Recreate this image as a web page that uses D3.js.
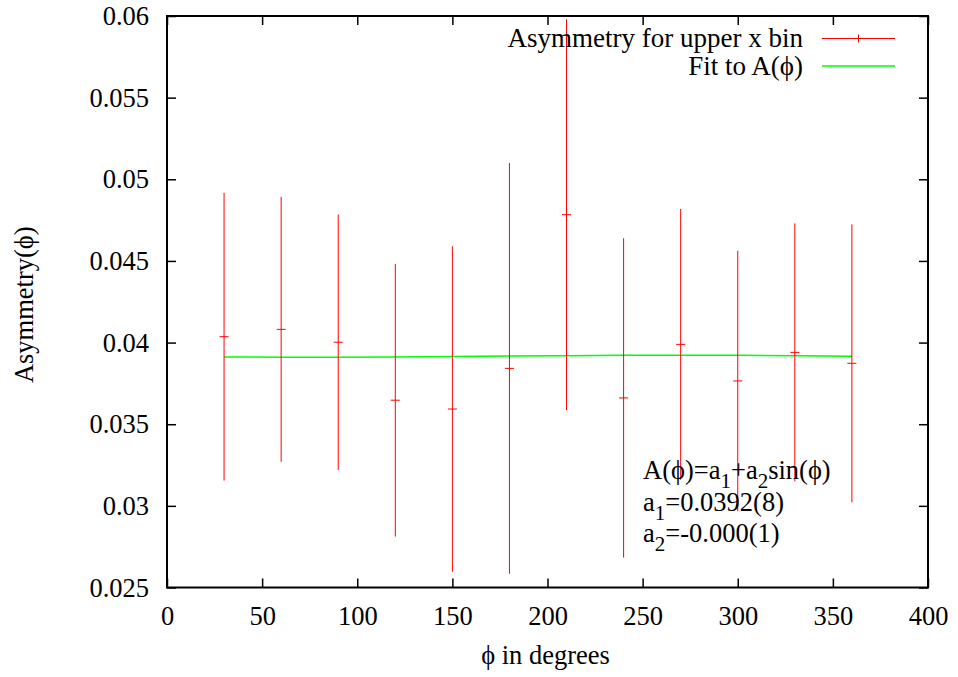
<!DOCTYPE html>
<html>
<head>
<meta charset="utf-8">
<script src="https://cdn.jsdelivr.net/npm/d3@7"></script>
</head>
<body style="margin:0;padding:0;background:#fff">
<svg id="chart" width="958" height="677" style="display:block"></svg>
<script>
// ---- data ----
const phi = [30, 60, 90, 120, 150, 180, 210, 240, 270, 300, 330, 360];
const asym = [0.04036, 0.04081, 0.04002, 0.03647, 0.03593, 0.03842, 0.04783, 0.03661, 0.03989, 0.03765, 0.03940, 0.03873];
const asymErr = [0.00881, 0.00811, 0.00782, 0.00835, 0.00997, 0.01258, 0.01197, 0.00978, 0.00829, 0.00798, 0.00790, 0.00851];
const fitPhi = [30, 60, 90, 120, 150, 180, 210, 240, 270, 300, 330, 360];
const fitA = [0.03912, 0.03910, 0.03910, 0.03912, 0.03914, 0.03918, 0.03920, 0.03922, 0.03922, 0.03922, 0.03920, 0.03916];
const xTicks = [0, 50, 100, 150, 200, 250, 300, 350, 400];
const yTicks = [0.025, 0.03, 0.035, 0.04, 0.045, 0.05, 0.055, 0.06];
const yTickLabels = ["0.025", "0.03", "0.035", "0.04", "0.045", "0.05", "0.055", "0.06"];
const legendLabels = ["Asymmetry for upper x bin", "Fit to A(\u03D5)"];

// ---- layout ----
const FONT = '"Liberation Serif"';
const L = 167, R = 928, T = 16, B = 587.5;
const svg = d3.select("#chart");
svg.append("rect").attr("width", 958).attr("height", 677).attr("fill", "#fff");

const x = d3.scaleLinear().domain([0, 400]).range([L, R]);
const y = d3.scaleLinear().domain([0.025, 0.06]).range([B, T]);
const FS = 26.5;
const tickLen = 9;

const gAxB = svg.append("g").attr("transform", `translate(0,${B})`)
  .call(d3.axisBottom(x).tickValues(xTicks).tickSizeInner(-tickLen).tickSizeOuter(0).tickFormat(d3.format("d")));
const gAxT = svg.append("g").attr("transform", `translate(0,${T})`)
  .call(d3.axisTop(x).tickValues(xTicks).tickSizeInner(-tickLen).tickSizeOuter(0).tickFormat(""));
const gAxL = svg.append("g").attr("transform", `translate(${L},0)`)
  .call(d3.axisLeft(y).tickValues(yTicks).tickSizeInner(-tickLen).tickSizeOuter(0)
    .tickFormat((d, i) => yTickLabels[i]));
const gAxR = svg.append("g").attr("transform", `translate(${R},0)`)
  .call(d3.axisRight(y).tickValues(yTicks).tickSizeInner(-tickLen).tickSizeOuter(0).tickFormat(""));

[gAxB, gAxT, gAxL, gAxR].forEach(g => {
  g.attr("font-family", null).attr("font-size", null);
  g.select(".domain").remove();
  g.selectAll(".tick line").attr("stroke", "#000").attr("stroke-width", 1.5);
  g.selectAll(".tick text").attr("font-size", FS).attr("fill", "#000").style("font-family", FONT);
});
gAxB.selectAll(".tick text").attr("dy", null).attr("y", 37.5);
gAxL.selectAll(".tick text").attr("dy", null).attr("x", -18).attr("y", 8.5);

// border
svg.append("rect").attr("x", L).attr("y", T).attr("width", R - L).attr("height", B - T)
  .attr("fill", "none").attr("stroke", "#000").attr("stroke-width", 2);

// fit line
const fitLine = d3.line().x((d, i) => x(fitPhi[i])).y(d => y(d));
svg.append("path").datum(fitA).attr("d", fitLine)
  .attr("fill", "none").attr("stroke", "#00ff00").attr("stroke-width", 1.5);

// error bars
const pts = phi.map((p, i) => ({ p, v: asym[i], e: asymErr[i] }));
const gE = svg.append("g").attr("stroke", "#ff0000").attr("stroke-width", 1);
gE.selectAll("line.bar").data(pts).join("line").attr("class", "bar")
  .attr("x1", d => x(d.p)).attr("x2", d => x(d.p))
  .attr("y1", d => y(d.v + d.e)).attr("y2", d => y(d.v - d.e));
gE.selectAll("line.pt").data(pts).join("line").attr("class", "pt")
  .attr("x1", d => x(d.p) - 4.5).attr("x2", d => x(d.p) + 4.5)
  .attr("y1", d => y(d.v)).attr("y2", d => y(d.v));

function txt(xp, yp, s, anchor, size) {
  return svg.append("text").attr("x", xp).attr("y", yp).attr("text-anchor", anchor || "start")
    .attr("font-size", size || FS).attr("fill", "#000").style("font-family", FONT).text(s);
}

// legend
const lgX1 = 822, lgX2 = 895, lgTextX = 803;
const lgRows = [38.5, 66];
txt(lgTextX, 47, legendLabels[0], "end", 27);
txt(lgTextX, 75, legendLabels[1], "end", 27);
svg.append("line").attr("x1", lgX1).attr("x2", lgX2).attr("y1", lgRows[0]).attr("y2", lgRows[0]).attr("stroke", "#ff0000").attr("stroke-width", 1);
svg.append("line").attr("x1", (lgX1 + lgX2) / 2).attr("x2", (lgX1 + lgX2) / 2).attr("y1", lgRows[0] - 4).attr("y2", lgRows[0] + 4).attr("stroke", "#ff0000").attr("stroke-width", 1);
svg.append("line").attr("x1", lgX1).attr("x2", lgX2).attr("y1", lgRows[1]).attr("y2", lgRows[1]).attr("stroke", "#00ff00").attr("stroke-width", 1.5);

// axis titles
txt((L + R) / 2 - 2, 664, "\u03D5 in degrees", "middle");
txt(0, 0, "Asymmetry(\u03D5)", "middle").attr("transform", `translate(33,${(T + B) / 2 + 3}) rotate(-90)`);

// annotation with subscripts
const SUB = 21, SUBDY = 9;
function richLine(yb, parts) {
  const t = txt(643, yb, null, "start");
  let shifted = false;
  parts.forEach(([s, sub]) => {
    const ts = t.append("tspan").text(s);
    if (sub) { ts.attr("font-size", SUB).attr("dy", shifted ? 0 : SUBDY); shifted = true; }
    else { ts.attr("dy", shifted ? -SUBDY : 0); shifted = false; }
  });
}
richLine(479, [["A(\u03D5)=a"], ["1", true], ["+a"], ["2", true], ["sin(\u03D5)"]]);
richLine(511, [["a"], ["1", true], ["=0.0392(8)"]]);
richLine(542, [["a"], ["2", true], ["=-0.000(1)"]]);
</script>
</body>
</html>
